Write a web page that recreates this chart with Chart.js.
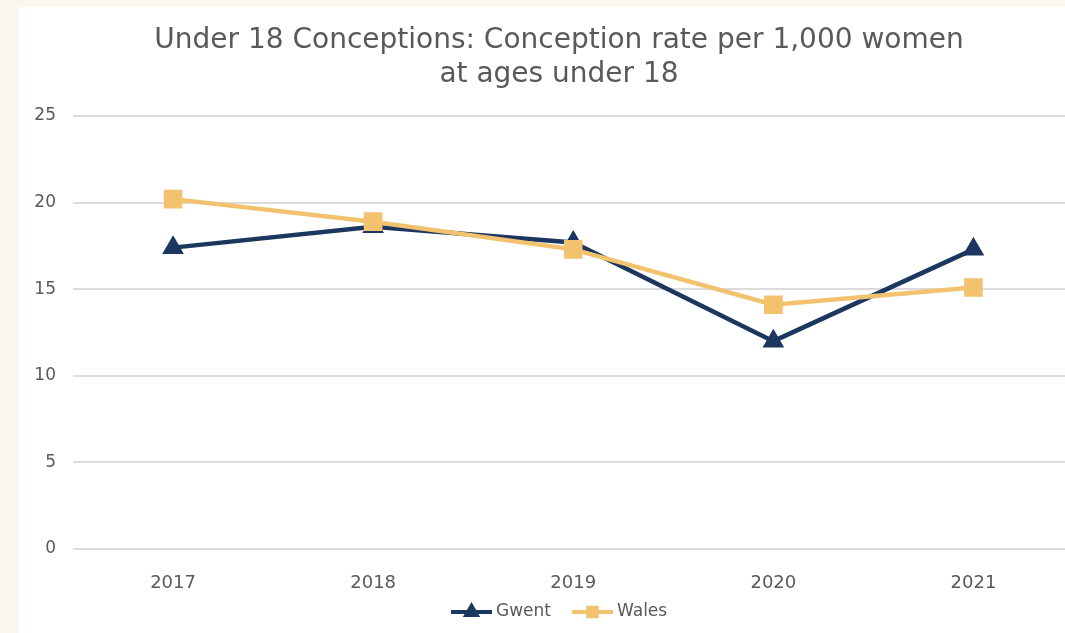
<!DOCTYPE html>
<html>
<head>
<meta charset="utf-8">
<script src="https://cdn.jsdelivr.net/npm/chart.js@4/dist/chart.umd.min.js"></script>
<style>
    html, body { margin: 0; padding: 0; background: #faf7ee; overflow: hidden; }
    #wrap { position: absolute; left: 19px; top: 7px; width: 1069px; height: 626px; background: #fff; }
</style>
</head>
<body>
<div id="wrap"><canvas id="chart" width="1069" height="626"></canvas></div>
<script>
const years = ['2017', '2018', '2019', '2020', '2021'];
const gwentRate = [17.4, 18.6, 17.7, 12.0, 17.3];
const walesRate = [20.2, 18.9, 17.3, 14.1, 15.1];
const titleLines = ['Under 18 Conceptions: Conception rate per 1,000 women', 'at ages under 18'];

const FONT = 'DejaVu Sans, Verdana, sans-serif';
const GREY = '#595959';
const NAVY = '#1b365f';
const GOLD = '#f2c26e';

// title drawn by hand so the plot area can be placed exactly
const titlePlugin = {
    id: 'titleText',
    afterDraw(chart) {
        const ctx = chart.ctx;
        ctx.save();
        ctx.fillStyle = GREY;
        ctx.font = '28px ' + FONT;
        ctx.textAlign = 'center';
        ctx.textBaseline = 'middle';
        const cx = 559 - 19;
        ctx.fillText(titleLines[0], cx, 34);
        ctx.fillText(titleLines[1], cx, 68);
        ctx.restore();
    }
};

// legend with line + marker like the office chart
const legendPlugin = {
    id: 'lineLegend',
    afterDraw(chart) {
        const ctx = chart.ctx;
        const y = 605;
        const items = [
            { x: 432, ds: chart.data.datasets[0] },
            { x: 553, ds: chart.data.datasets[1] }
        ];
        ctx.save();
        ctx.font = '17px ' + FONT;
        ctx.textBaseline = 'middle';
        items.forEach(it => {
            const ds = it.ds;
            ctx.strokeStyle = ds.borderColor;
            ctx.lineWidth = 4;
            ctx.beginPath();
            ctx.moveTo(it.x, y);
            ctx.lineTo(it.x + 41, y);
            ctx.stroke();
            ctx.fillStyle = ds.pointBackgroundColor;
            ctx.strokeStyle = ds.pointBorderColor;
            Chart.helpers.drawPoint(ctx, {
                pointStyle: ds.pointStyle,
                radius: 6,
                rotation: 0,
                borderWidth: 1
            }, it.x + 20.5, y);
            ctx.fillStyle = GREY;
            ctx.fillText(ds.label, it.x + 45, y);
        });
        ctx.restore();
    }
};

new Chart(document.getElementById('chart'), {
    type: 'line',
    data: {
        labels: years,
        datasets: [{
            label: 'Gwent',
            data: gwentRate,
            order: 1,
            borderColor: NAVY,
            borderWidth: 4.5,
            pointStyle: 'triangle',
            pointRadius: 8,
            pointBackgroundColor: NAVY,
            pointBorderColor: NAVY,
            tension: 0
        }, {
            label: 'Wales',
            data: walesRate,
            order: 0,
            borderColor: GOLD,
            borderWidth: 4.5,
            pointStyle: 'rect',
            pointRadius: 10,
            pointBackgroundColor: GOLD,
            pointBorderColor: GOLD,
            tension: 0
        }]
    },
    options: {
        responsive: false,
        animation: false,
        layout: { padding: { top: 109, right: 0, left: 0, bottom: 0 } },
        plugins: {
            legend: { display: false },
            title: { display: false },
            tooltip: { enabled: false }
        },
        scales: {
            x: {
                offset: true,
                grid: { display: false },
                border: { display: false },
                ticks: { color: GREY, font: { family: FONT, size: 18 }, padding: 16 },
                afterFit(scale) { scale.height = 84; }
            },
            y: {
                min: 0,
                max: 25,
                ticks: { stepSize: 5, color: GREY, font: { family: FONT, size: 17 }, padding: 17 },
                grid: { color: '#dcdcdc', lineWidth: 2, drawTicks: false },
                border: { display: false },
                afterFit(scale) { scale.width = 54; }
            }
        }
    },
    plugins: [titlePlugin, legendPlugin]
});
</script>
</body>
</html>
